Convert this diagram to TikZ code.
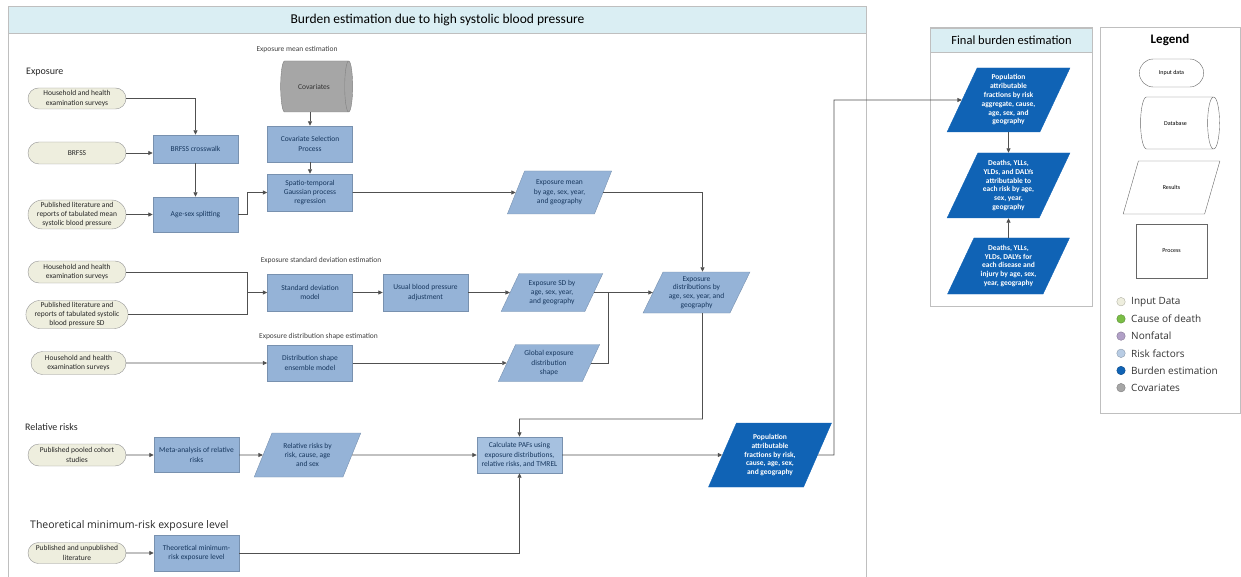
\documentclass[tikz,border=0pt]{standalone}
\usepackage{fontspec}
\setmainfont{Carlito}
\newfontfamily\legendfont{Open Sans}
\usetikzlibrary{shapes.geometric,shapes.misc,arrows.meta}

\definecolor{framegray}{RGB}{191,191,191}
\definecolor{titlefill}{RGB}{218,238,243}
\definecolor{inputfill}{RGB}{238,238,222}
\definecolor{inputdraw}{RGB}{150,150,150}
\definecolor{procfill}{RGB}{149,179,215}
\definecolor{procdraw}{RGB}{120,145,175}
\definecolor{pafproc}{RGB}{166,193,224}
\definecolor{darkblue}{RGB}{16,99,181}
\definecolor{covfill}{RGB}{166,166,166}
\definecolor{covdraw}{RGB}{128,128,128}
\definecolor{edgegray}{RGB}{80,80,80}
\definecolor{textblue}{RGB}{23,55,94}
\definecolor{deathgreen}{RGB}{122,190,70}
\definecolor{nonfatal}{RGB}{177,160,199}
\definecolor{riskblue}{RGB}{184,204,228}

\begin{document}
\begin{tikzpicture}[x=1pt, y=-1pt, >={Triangle[length=4.5pt,width=4pt]},
    every node/.style={font=\fontsize{7.5}{9.3}\selectfont, align=center},
    inputbox/.style={rounded rectangle, draw=inputdraw, fill=inputfill, minimum width=100pt, minimum height=21pt, inner sep=1pt, text=black!85},
    procbox/.style={rectangle, draw=procdraw, fill=procfill, minimum width=85pt, minimum height=36pt, inner sep=1pt, text=textblue},
    resultbox/.style={trapezium, trapezium left angle=63, trapezium right angle=117, trapezium stretches=true, draw=procdraw, fill=procfill, minimum width=105pt, minimum height=43pt, inner sep=0pt, text=textblue},
    burdenbox/.style={resultbox, draw=darkblue, fill=darkblue, text=white, font=\fontsize{7.5}{8.8}\selectfont\bfseries, minimum width=123pt, minimum height=64pt},
    conn/.style={draw=edgegray, line width=0.8pt},
    sublabel/.style={font=\fontsize{7.5}{9}\selectfont, text=black!75},
    seclabel/.style={font=\fontsize{10}{12}\selectfont, anchor=west, inner sep=0pt, text=black!85},
  ]
  \useasboundingbox (0,0) rectangle (1241,577);

  % Main frame
  \draw[framegray, line width=1pt] (8,33) -- (8,590) (866,33) -- (866,590);
  \node[draw=framegray, fill=titlefill, line width=1pt, minimum width=858pt, minimum height=27pt, anchor=north west, inner sep=0pt, font=\fontsize{13.5}{15}\selectfont] (maintitle) at (8,6) {Burden estimation due to high systolic blood pressure};

  % Section labels
  \node[seclabel] (lblexp) at (26,72) {Exposure};
  \node[seclabel] (lblrr) at (25,427) {Relative risks};
  \node[seclabel, font=\legendfont\fontsize{10.5}{12}\selectfont] (lbltmrel) at (30,526) {Theoretical minimum-risk exposure level};
  \node[sublabel] (lblmean) at (297,50) {Exposure mean estimation};
  \node[sublabel] (lblsd) at (321,261) {Exposure standard deviation estimation};
  \node[sublabel] (lblshape) at (318.5,336) {Exposure distribution shape estimation};

  % Input data
  \node[inputbox] (hhmean) at (77,98.5) {Household and health\\examination surveys};
  \node[inputbox, minimum height=22pt] (brfss) at (77,153) {BRFSS};
  \node[inputbox, minimum height=29pt] (litmean) at (77,214.5) {Published literature and\\reports of tabulated mean\\systolic blood pressure};
  \node[inputbox, minimum height=22pt] (hhsd) at (77,272) {Household and health\\examination surveys};
  \node[inputbox, minimum height=28pt] (litsd) at (77,314.5) {Published literature and\\reports of tabulated systolic\\blood pressure SD};
  \node[inputbox, minimum width=97pt, minimum height=23pt] (hhshape) at (78.5,363) {Household and health\\examination surveys};
  \node[inputbox, minimum height=22pt] (cohort) at (77,455) {Published pooled cohort\\studies};
  \node[inputbox] (unpub) at (77,553) {Published and unpublished\\literature};

  % Covariates
  \node[cylinder, draw=covdraw, fill=covfill, minimum width=51pt, minimum height=72pt, shape aspect=1.1, inner sep=1pt, text=black!80] (cov) at (314,86.5) {Covariates};

  % Processes
  \node[procbox, minimum height=28pt] (xwalk) at (195.5,149) {BRFSS crosswalk};
  \node[procbox, minimum height=35pt] (agesex) at (195.5,214.5) {Age-sex splitting};
  \node[procbox] (covsel) at (310,144) {Covariate Selection\\Process};
  \node[procbox, minimum height=37pt] (stgpr) at (310,192.5) {Spatio-temporal\\Gaussian process\\regression};
  \node[procbox, minimum height=37pt] (sdmodel) at (310,292.5) {Standard deviation\\model};
  \node[procbox, minimum height=37pt] (usualbp) at (425.5,292.5) {Usual blood pressure\\adjustment};
  \node[procbox] (shapemodel) at (310,363) {Distribution shape\\ensemble model};
  \node[procbox, minimum height=35pt] (metaan) at (196.5,455) {Meta-analysis of relative\\risks};
  \node[procbox] (tmrel) at (196.5,553) {Theoretical minimum-\\risk exposure level};
  \node[procbox, fill=pafproc] (calcpaf) at (519.5,455) {Calculate PAFs using\\exposure distributions,\\relative risks, and TMREL};

  % Results
  \node[resultbox] (expmean) at (559.5,192.5) {Exposure mean\\by age, sex, year,\\and geography};
  \node[resultbox, minimum width=102pt, minimum height=38pt] (expsd) at (552,292.5) {Exposure SD by\\age, sex, year,\\and geography};
  \node[resultbox, minimum width=102pt, minimum height=37pt] (globshape) at (549,363) {Global exposure\\distribution\\shape};
  \node[resultbox, minimum width=107pt, minimum height=41pt, font=\fontsize{7.5}{8.8}\selectfont] (expdist) at (696.5,292.5) {Exposure\\distributions by\\age, sex, year, and\\geography};
  \node[resultbox, minimum width=107pt, minimum height=44pt] (rrby) at (307.5,455) {Relative risks by\\risk, cause, age\\and sex};
  \node[burdenbox, minimum width=124pt] (paf) at (770,455) {Population\\attributable\\fractions by risk,\\cause, age, sex,\\and geography};

  % Final burden estimation
  \draw[framegray, line width=1pt] (930,28) rectangle (1092,306);
  \node[draw=framegray, fill=titlefill, line width=1pt, minimum width=162pt, minimum height=24pt, anchor=north west, inner sep=0pt, font=\fontsize{12.5}{14}\selectfont] (finaltitle) at (930,28) {Final burden estimation};
  \node[burdenbox] (fpaf) at (1008.5,100) {Population\\attributable\\fractions by risk\\aggregate, cause,\\age, sex, and\\geography};
  \node[burdenbox, minimum height=65pt] (fdeaths) at (1008.5,185.5) {Deaths, YLLs,\\YLDs, and DALYs\\attributable to\\each risk by age,\\sex, year,\\geography};
  \node[burdenbox, minimum height=56pt] (fall) at (1008.5,266) {Deaths, YLLs,\\YLDs, DALYs for\\each disease and\\injury by age, sex,\\year, geography};

  % Connectors: exposure mean
  \draw[conn,->] (hhmean.east) -| (xwalk.north);
  \draw[conn,->] (brfss.east) -- (brfss.east -| xwalk.west);
  \draw[conn,->] (xwalk.south) -- (agesex.north);
  \draw[conn,->] (litmean.east) -- (agesex.west);
  \draw[conn,->] (agesex.east) -- ++(9,0) |- (stgpr.west);
  \draw[conn,->] (cov.south -| covsel.north) -- (covsel.north);
  \draw[conn,->] (covsel.south) -- (stgpr.north);
  \draw[conn,->] (stgpr.east) -- (expmean.west);
  \coordinate (meanin) at ([xshift=6pt]expdist.north);
  \draw[conn,->] (expmean.east) -| (meanin);

  % Connectors: standard deviation and shape
  \coordinate (sdjoin) at (247,292.5);
  \draw[conn] (hhsd.east) -| (sdjoin);
  \draw[conn] (litsd.east) -| (sdjoin);
  \draw[conn,->] (sdjoin) -- (sdmodel.west);
  \draw[conn,->] (sdmodel) -- (usualbp);
  \draw[conn,->] (usualbp) -- (expsd);
  \draw[conn,->] (expsd.east) -- (expdist.west);
  \coordinate (distjoin) at (608,292.5);
  \draw[conn] (globshape.east) -| (distjoin);
  \draw[conn,->] (hhshape) -- (shapemodel);
  \draw[conn,->] (shapemodel) -- (globshape);

  % Connectors: PAFs
  \coordinate (distout) at ([xshift=6pt]expdist.south);
  \coordinate (pafbend) at (702.5,419);
  \draw[conn,->] (distout) -- (pafbend) -| (calcpaf.north);
  \draw[conn,->] (cohort) -- (metaan);
  \draw[conn,->] (metaan) -- (rrby);
  \draw[conn,->] (rrby) -- (calcpaf);
  \draw[conn,->] (unpub) -- (tmrel);
  \draw[conn,->] (tmrel.east) -| (calcpaf.south);
  \draw[conn,->] (calcpaf) -- (paf);
  \coordinate (pafup) at (834,455);
  \draw[conn,->] (paf.east) -- (pafup) |- (fpaf.west);
  \draw[conn,->] (fpaf) -- (fdeaths);
  \draw[conn,->] (fall) -- (fdeaths);

  % Legend
  \draw[framegray, line width=1pt] (1100,28) rectangle (1240,413);
  \node[font=\fontsize{13}{15}\selectfont\bfseries] (legtitle) at (1170,40) {Legend};
  \node[rounded rectangle, draw=black!60, minimum width=71pt, minimum height=28pt, font=\fontsize{6}{7}\selectfont] (leginput) at (1171.5,73) {Input data};
  \node[cylinder, draw=black!60, minimum width=52pt, minimum height=79pt, shape aspect=1.1, font=\fontsize{6}{7}\selectfont] (legdb) at (1175.5,123) {Database};
  \node[trapezium, trapezium left angle=63, trapezium right angle=117, trapezium stretches=true, draw=black!60, minimum width=97pt, minimum height=53pt, font=\fontsize{6}{7}\selectfont] (legres) at (1171.5,187.5) {Results};
  \node[rectangle, draw=black!60, minimum width=71pt, minimum height=54pt, font=\fontsize{6}{7}\selectfont] (legproc) at (1171.5,251) {Process};
  \foreach \lab/\col [count=\i] in {Input Data/inputfill, Cause of death/deathgreen, Nonfatal/nonfatal, Risk factors/riskblue, Burden estimation/darkblue, Covariates/covfill} {
    \node[circle, fill=\col, draw=\col!75!black, line width=0.4pt, minimum size=8.5pt, inner sep=0pt] (dot\i) at (1121,284.5+17.2*\i) {};
    \node[anchor=west, inner sep=0pt, text=black!80, font=\legendfont\fontsize{10}{12}\selectfont] (leg\i) at (1131,284.5+17.2*\i) {\lab};
  }
\end{tikzpicture}
\end{document}
